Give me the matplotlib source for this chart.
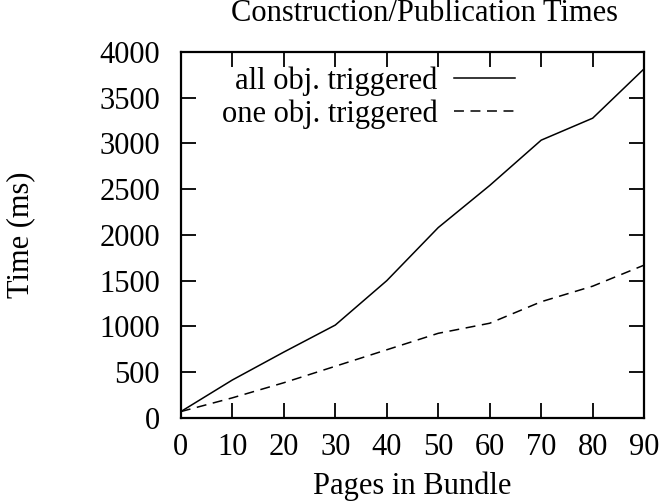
import matplotlib
matplotlib.use("Agg")
import matplotlib.pyplot as plt

# pages in bundle vs. time (ms)
pages = [0, 10, 20, 30, 40, 50, 60, 70, 80, 90]
all_obj = [70, 415, 720, 1015, 1500, 2080, 2540, 3035, 3275, 3815]
one_obj = [70, 220, 385, 565, 745, 925, 1035, 1270, 1440, 1670]

plt.rcParams['font.family'] = ['Liberation Serif', 'DejaVu Serif']

fig = plt.figure(figsize=(6.6, 5.03), dpi=100)
ax = fig.add_axes([0.274, 0.169, 0.702, 0.728])

ax.plot(pages, all_obj, color='black', lw=1.1, label='all obj. triggered')
ax.plot(pages, one_obj, color='black', lw=1.1, ls=(0, (6.5, 4.3)), label='one obj. triggered')

ax.set_xlim(0, 90)
ax.set_ylim(0, 4000)
ax.set_xticks(range(0, 91, 10))
ax.set_yticks(range(0, 4001, 500))
ax.tick_params(direction='in', length=11, width=1.3, top=True, right=True,
               labelsize=22)
ax.tick_params(axis='x', pad=11)
ax.tick_params(axis='y', pad=15)
for s in ax.spines.values():
    s.set_linewidth(1.6)

ax.set_title("Construction/Publication Times", fontsize=22, pad=22, x=0.525)
ax.set_xlabel("Pages in Bundle", fontsize=22, labelpad=7)
ax.set_ylabel("Time (ms)", fontsize=22, labelpad=46)

ax.legend(loc='upper right', frameon=False, markerfirst=False, fontsize=22,
          handlelength=2.0, handletextpad=0.55, borderpad=0, borderaxespad=0,
          labelspacing=0.1, bbox_to_anchor=(0.722, 0.96))

plt.savefig("out.png", dpi=100)
